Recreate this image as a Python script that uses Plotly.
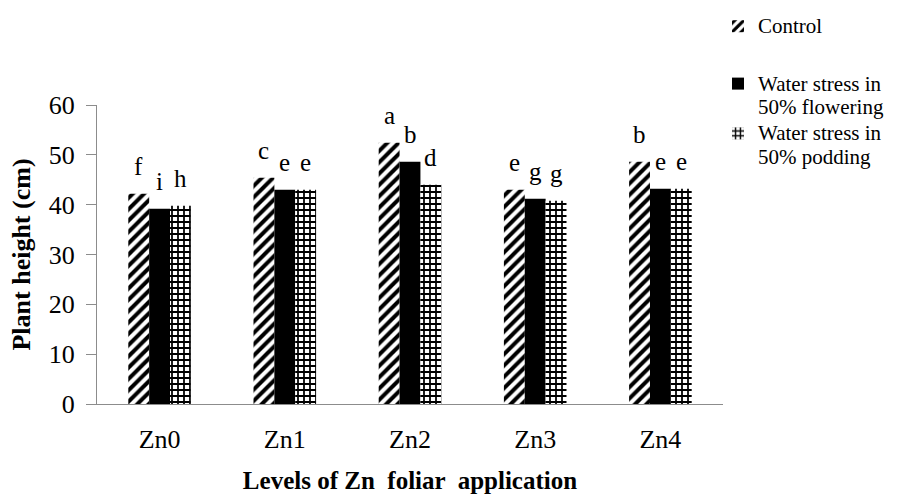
import plotly.graph_objects as go

categories = ["Zn0", "Zn1", "Zn2", "Zn3", "Zn4"]
series_names = ["Control", "Water stress in<br>50% flowering", "Water stress in<br>50% podding"]
control = [42.2, 45.4, 52.4, 43.0, 48.6]
flowering = [39.2, 43.0, 48.6, 41.2, 43.2]
podding = [39.8, 43.0, 44.0, 40.8, 43.2]
control_letters = ["f", "c", "a", "e", "b"]
flowering_letters = ["i", "e", "b", "g", "e"]
podding_letters = ["h", "e", "d", "g", "e"]
y_ticks = [0, 10, 20, 30, 40, 50, 60]

FONT = "Times New Roman, Liberation Serif, serif"
BARGAP = 0.5
values = [control, flowering, podding]
letters = [control_letters, flowering_letters, podding_letters]
patterns = [
    dict(shape="/", size=8, solidity=0.5, fgcolor="black", bgcolor="white", fillmode="replace"),
    None,
    dict(shape="+", size=6, solidity=0.5, fgcolor="black", bgcolor="white", fillmode="replace"),
]
colors = ["white", "black", "white"]
groups = ["g1", "g2", "g2"]


def legend_label(name):
    # slightly larger glyphs on a tight line pitch, like the original legend
    return "<br>".join('<span style="font-size:21px">%s</span>' % part for part in name.split("<br>"))


fig = go.Figure()
for k in range(3):
    marker = dict(color=colors[k], line=dict(width=0))
    if patterns[k] is not None:
        marker["pattern"] = patterns[k]
    fig.add_trace(go.Bar(
        x=categories, y=values[k], name=legend_label(series_names[k]), marker=marker,
        legendgroup=groups[k],
    ))

n = len(series_names)
bw = (1 - BARGAP) / n
annotations = []
for k in range(n):
    for i, v in enumerate(values[k]):
        annotations.append(dict(
            x=i + (k - (n - 1) / 2) * bw, y=v, xref="x", yref="y",
            text=letters[k][i], showarrow=False, yanchor="bottom",
            yshift=12, font=dict(family=FONT, size=25, color="black"),
        ))

fig.update_layout(
    width=919, height=494,
    margin=dict(l=97, r=196, t=105, b=90, autoexpand=False),
    paper_bgcolor="white", plot_bgcolor="white",
    barmode="group", bargap=BARGAP, bargroupgap=0,
    font=dict(family=FONT, color="black"),
    showlegend=True,
    legend=dict(
        x=(718 - 97) / 626, y=(404 - 8) / 299, xanchor="left", yanchor="top",
        font=dict(family=FONT, size=18, color="black"),
        valign="top", tracegroupgap=31, itemwidth=30,
        bgcolor="rgba(0,0,0,0)",
    ),
    annotations=annotations,
)
fig.update_xaxes(
    type="category", showline=True, linecolor="#8c8c8c", linewidth=1,
    ticks="", tickfont=dict(family=FONT, size=26, color="black"),
    ticklabelstandoff=12,
    title=dict(text="<b>Levels of Zn  foliar  application</b>",
               font=dict(family=FONT, size=25, color="black"), standoff=24),
    showgrid=False, zeroline=False,
)
fig.update_yaxes(
    range=[0, 60], tickvals=y_ticks, showline=True, linecolor="#8c8c8c", linewidth=1,
    ticks="outside", ticklen=10, tickcolor="#8c8c8c",
    tickfont=dict(family=FONT, size=26, color="black"),
    ticklabelstandoff=6,
    title=dict(text="<b>Plant height (cm)</b>",
               font=dict(family=FONT, size=26, color="black"), standoff=10),
    showgrid=False, zeroline=False,
)

fig.write_html("out.html")
